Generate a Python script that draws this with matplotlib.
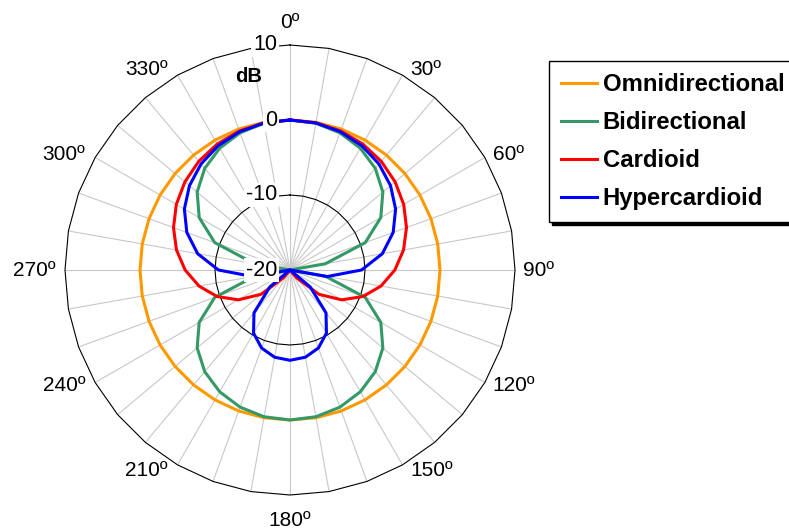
#!/usr/bin/env python3
"""Polar response patterns of common microphone types (radar style)."""

import matplotlib
matplotlib.use("Agg")
import matplotlib.pyplot as plt
import numpy as np

plt.rcParams["font.family"] = ["Liberation Sans", "DejaVu Sans"]

# 36 spokes, every 10 degrees, clockwise from the top
ANGLES_DEG = list(range(0, 360, 10))

# level in dB, -20 is the chart centre
OMNI = [0.0] * 36
BIDIR = [0.0, -0.13, -0.54, -1.25, -2.31, -3.84, -6.02, -9.32, -15.21, -20.0,
         -15.21, -9.32, -6.02, -3.84, -2.31, -1.25, -0.54, -0.13, 0.0, -0.13,
         -0.54, -1.25, -2.31, -3.84, -6.02, -9.32, -15.21, -20.0, -15.21, -9.32,
         -6.02, -3.84, -2.31, -1.25, -0.54, -0.13]
CARDIOID = [0.0, -0.07, -0.27, -0.60, -1.08, -1.71, -2.50, -3.47, -4.63, -6.02,
            -7.68, -9.66, -12.04, -14.96, -18.64, -20.0, -20.0, -20.0, -20.0, -20.0,
            -20.0, -20.0, -18.64, -14.96, -12.04, -9.66, -7.68, -6.02, -4.63, -3.47,
            -2.50, -1.71, -1.08, -0.60, -0.27, -0.07]
HYPER = [0.0, -0.09, -0.38, -0.86, -1.55, -2.50, -3.74, -5.36, -7.50, -10.46,
         -14.97, -20.0, -20.0, -16.48, -12.53, -10.28, -8.93, -8.19, -7.96, -8.19,
         -8.93, -10.28, -12.53, -16.48, -20.0, -20.0, -14.97, -10.46, -7.50, -5.36,
         -3.74, -2.50, -1.55, -0.86, -0.38, -0.09]

SERIES = [
    ("Omnidirectional", OMNI, "#ff9900"),
    ("Bidirectional", BIDIR, "#339966"),
    ("Cardioid", CARDIOID, "#ff0000"),
    ("Hypercardioid", HYPER, "#0000ff"),
]

R_TICKS = [10, 0, -10, -20]
ANGLE_LABELS = list(range(0, 360, 30))
R_MIN, R_MAX = -20, 10

SPOKE = "#c8c8c8"
INK = "#000000"

fig = plt.figure(figsize=(7.89, 5.31), dpi=100, facecolor="white")
ax = fig.add_axes([65 / 789, 36 / 531, 450 / 789, 450 / 531], projection="polar")
ax.set_theta_zero_location("N")
ax.set_theta_direction(-1)
ax.set_ylim(R_MIN, R_MAX)
ax.set_xticks([])
ax.set_yticks([])
ax.grid(False)
ax.spines["polar"].set_visible(False)

theta = np.radians(ANGLES_DEG)
theta_closed = np.append(theta, theta[0])

# spokes
for t in theta:
    ax.plot([t, t], [R_MIN, R_MAX], color=SPOKE, lw=0.8, zorder=1)

# polygon rings
for r in [-10, 0, 10]:
    ax.plot(theta_closed, [r] * len(theta_closed), color=INK, lw=0.8, zorder=2,
            clip_on=False)

# data
handles = []
for name, vals, color in SERIES:
    (ln,) = ax.plot(theta_closed, vals + vals[:1], color=color, lw=2.2,
                    zorder=3, solid_joinstyle="round", label=name)
    handles.append(ln)

# radial labels on the 0 deg spoke
for r in R_TICKS:
    ax.annotate(str(r), xy=(0, r), xytext=(-13, 0), textcoords="offset pixels",
                ha="right", va="center", fontsize=15.5, color=INK, zorder=5,
                bbox=dict(boxstyle="square,pad=0.08", fc="white", ec="none"))

ax.text(0.407, 0.929, "dB", transform=ax.transAxes, ha="center", va="center",
        fontsize=14.5, fontweight="bold", color=INK)

# angle labels just outside the outer ring
for deg in ANGLE_LABELS:
    t = np.radians(deg)
    if deg == 0:
        off, ha = (0, 22), "center"
    elif deg == 180:
        off, ha = (0, -25), "center"
    elif deg < 180:
        off, ha = (8, 6 * np.cos(t)), "left"
    else:
        off, ha = (-10, 6 * np.cos(t)), "right"
    ax.annotate(f"{deg}º", xy=(t, R_MAX), xytext=off, textcoords="offset pixels",
                ha=ha, va="center", fontsize=15, color=INK, annotation_clip=False)

leg = fig.legend(
    handles, [s[0] for s in SERIES], loc="upper left",
    bbox_to_anchor=(549 / 789, 1 - 61 / 531), borderaxespad=0,
    prop=dict(weight="bold", size=17.2), frameon=True, fancybox=False,
    edgecolor=INK, shadow={"color": "black", "alpha": 1.0},
    handlelength=1.5, handletextpad=0.25, labelspacing=0.63, borderpad=0.5,
)
leg.get_frame().set_linewidth(1.0)
for ln in leg.get_lines():
    ln.set_linewidth(2.2)

fig.savefig("out.png", dpi=100, facecolor="white")
